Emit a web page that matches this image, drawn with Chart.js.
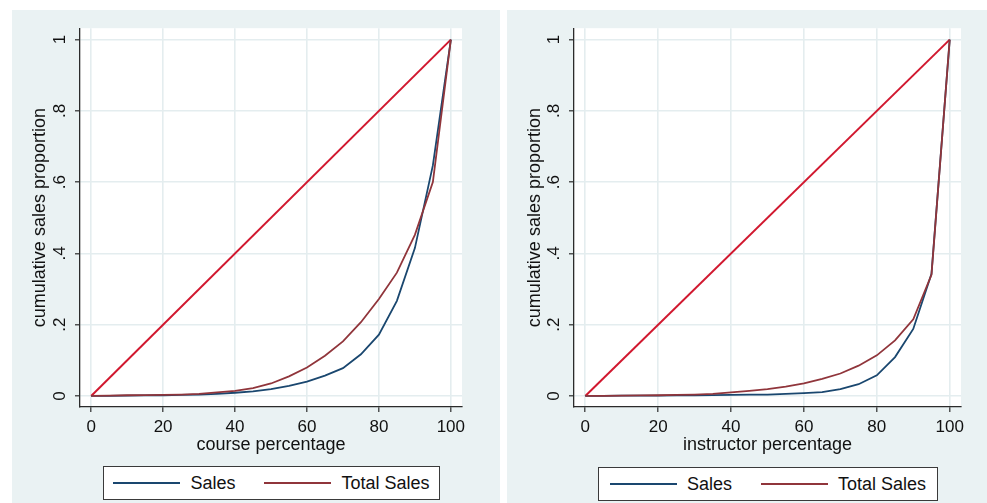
<!DOCTYPE html>
<html>
<head>
<meta charset="utf-8">
<script src="https://cdn.jsdelivr.net/npm/chart.js@4.4.1/dist/chart.umd.min.js"></script>
<style>
  html, body { margin: 0; padding: 0; background: #ffffff; }
  body { width: 987px; height: 503px; position: relative; overflow: hidden; font-family: "Liberation Sans", Arial, sans-serif; }
  .panel { position: absolute; background: #eaf2f3; }
  .panel canvas { position: absolute; left: 0; top: 0; }
  .legend { position: absolute; box-sizing: border-box; background: #ffffff; border: 1.3px solid #3a3a3a;
            display: flex; align-items: center; justify-content: center; gap: 29px; font-size: 18px; color: #111; }
  .item { display: flex; align-items: center; }
  .swatch { width: 67px; height: 2px; margin-right: 10px; }
</style>
</head>
<body>
<div class="panel" id="p1" style="left:12px; top:10px; width:488px; height:493px;"><canvas id="c1" width="488" height="493"></canvas></div>
<div class="panel" id="p2" style="left:507px; top:10px; width:480px; height:493px;"><canvas id="c2" width="480" height="493"></canvas></div>
<div class="legend" id="l1" style="left:103px; top:466px; width:337px; height:34px;"></div>
<div class="legend" id="l2" style="left:598px; top:467px; width:340px; height:34px;"></div>
<script>
// ---- data ----
const xPercent = [0, 5, 10, 15, 20, 25, 30, 35, 40, 45, 50, 55, 60, 65, 70, 75, 80, 85, 90, 95, 100];

const courseSales = [0, 0.0005, 0.001, 0.0015, 0.002, 0.003, 0.004, 0.006, 0.009, 0.013, 0.019, 0.028, 0.040, 0.057, 0.078, 0.117, 0.172, 0.267, 0.415, 0.647, 1];
const courseTotalSales = [0, 0.001, 0.002, 0.0025, 0.003, 0.004, 0.006, 0.010, 0.014, 0.022, 0.035, 0.055, 0.080, 0.113, 0.153, 0.207, 0.272, 0.346, 0.452, 0.600, 1];

const instructorSales = [0, 0.0005, 0.001, 0.001, 0.001, 0.0015, 0.002, 0.0025, 0.003, 0.0035, 0.004, 0.006, 0.008, 0.011, 0.019, 0.033, 0.058, 0.109, 0.188, 0.343, 1];
const instructorTotalSales = [0, 0.0005, 0.001, 0.0015, 0.002, 0.003, 0.004, 0.006, 0.010, 0.014, 0.019, 0.026, 0.035, 0.048, 0.063, 0.085, 0.114, 0.156, 0.215, 0.340, 1];

const equalityX = [0, 100];
const equalityY = [0, 1];

const xTickValues = [0, 20, 40, 60, 80, 100];
const yTickValues = [0, 0.2, 0.4, 0.6, 0.8, 1];
const yTickLabels = ['0', '.2', '.4', '.6', '.8', '1'];

const seriesNames = ['Sales', 'Total Sales'];
const xTitles = ['course percentage', 'instructor percentage'];
const yTitle = 'cumulative sales proportion';

// ---- styling ----
const FONT = '"Liberation Sans", Arial, sans-serif';
const NAVY = '#1a476f';
const MAROON = '#90353b';
const RED = '#d1182f';
const GRID = '#e4edef';
const AXIS = '#2b2b2b';
const TEXT = '#111111';

function pts(xs, ys) { return xs.map((x, i) => ({ x: x, y: ys[i] })); }

const plotBg = {
  id: 'plotBg',
  beforeDraw(chart) {
    const a = chart.chartArea, ctx = chart.ctx;
    ctx.save();
    ctx.fillStyle = '#ffffff';
    ctx.fillRect(a.left, a.top, a.right - a.left, a.bottom - a.top);
    ctx.restore();
  }
};

function makeChart(canvasId, legendId, sales, total, xTitle, pad, yWidth) {
  const datasets = [
    { label: seriesNames[0], data: pts(xPercent, sales), borderColor: NAVY, borderWidth: 1.8, order: 1 },
    { label: seriesNames[1], data: pts(xPercent, total), borderColor: MAROON, borderWidth: 1.8, order: 0 },
    { label: 'equality', data: pts(equalityX, equalityY), borderColor: RED, borderWidth: 2, order: 2 }
  ];
  datasets.forEach(d => { d.showLine = true; d.pointRadius = 0; d.tension = 0; d.fill = false; d.backgroundColor = d.borderColor; });

  const chart = new Chart(document.getElementById(canvasId), {
    type: 'scatter',
    data: { datasets: datasets },
    options: {
      responsive: false,
      animation: false,
      events: [],
      layout: { padding: pad },
      plugins: { legend: { display: false }, tooltip: { enabled: false } },
      scales: {
        x: {
          type: 'linear', min: -3.1, max: 103.1,
          afterBuildTicks: s => { s.ticks = xTickValues.map(v => ({ value: v })); },
          grid: { color: GRID, lineWidth: 1.6, tickColor: AXIS, tickWidth: 1.2, tickLength: 5 },
          border: { display: true, color: AXIS, width: 1.3 },
          ticks: { font: { family: FONT, size: 17 }, color: TEXT, padding: 5, maxRotation: 0, autoSkip: false },
          title: { display: true, text: xTitle, font: { family: FONT, size: 18 }, color: TEXT, padding: { top: 0, bottom: 0 } },
          afterFit: s => { s.height = 49; }
        },
        y: {
          type: 'linear', min: -0.031, max: 1.032,
          afterBuildTicks: s => { s.ticks = yTickValues.map(v => ({ value: v })); },
          grid: { color: GRID, lineWidth: 1.6, tickColor: AXIS, tickWidth: 1.2, tickLength: 5 },
          border: { display: true, color: AXIS, width: 1.3 },
          ticks: {
            font: { family: FONT, size: 17 }, color: TEXT, padding: 8, minRotation: 90, maxRotation: 90,
            crossAlign: 'center', autoSkip: false,
            callback: v => { const i = yTickValues.findIndex(t => Math.abs(t - v) < 1e-9); return i >= 0 ? yTickLabels[i] : ''; }
          },
          title: { display: true, text: yTitle, font: { family: FONT, size: 18 }, color: TEXT, padding: { top: 17, bottom: 0 } },
          afterFit: s => { s.width = yWidth; }
        }
      }
    },
    plugins: [plotBg]
  });

  // legend built from the chart's own datasets
  const lg = document.getElementById(legendId);
  chart.data.datasets.slice(0, 2).forEach(d => {
    const it = document.createElement('div'); it.className = 'item';
    const sw = document.createElement('div'); sw.className = 'swatch'; sw.style.background = d.borderColor;
    const tx = document.createElement('span'); tx.textContent = d.label;
    it.appendChild(sw); it.appendChild(tx); lg.appendChild(it);
  });
  return chart;
}

makeChart('c1', 'l1', courseSales, courseTotalSales, xTitles[0], { left: 0, top: 15, right: 38, bottom: 47 }, 68);
makeChart('c2', 'l2', instructorSales, instructorTotalSales, xTitles[1], { left: 0, top: 11, right: 26, bottom: 47 }, 67);
</script>
</body>
</html>
